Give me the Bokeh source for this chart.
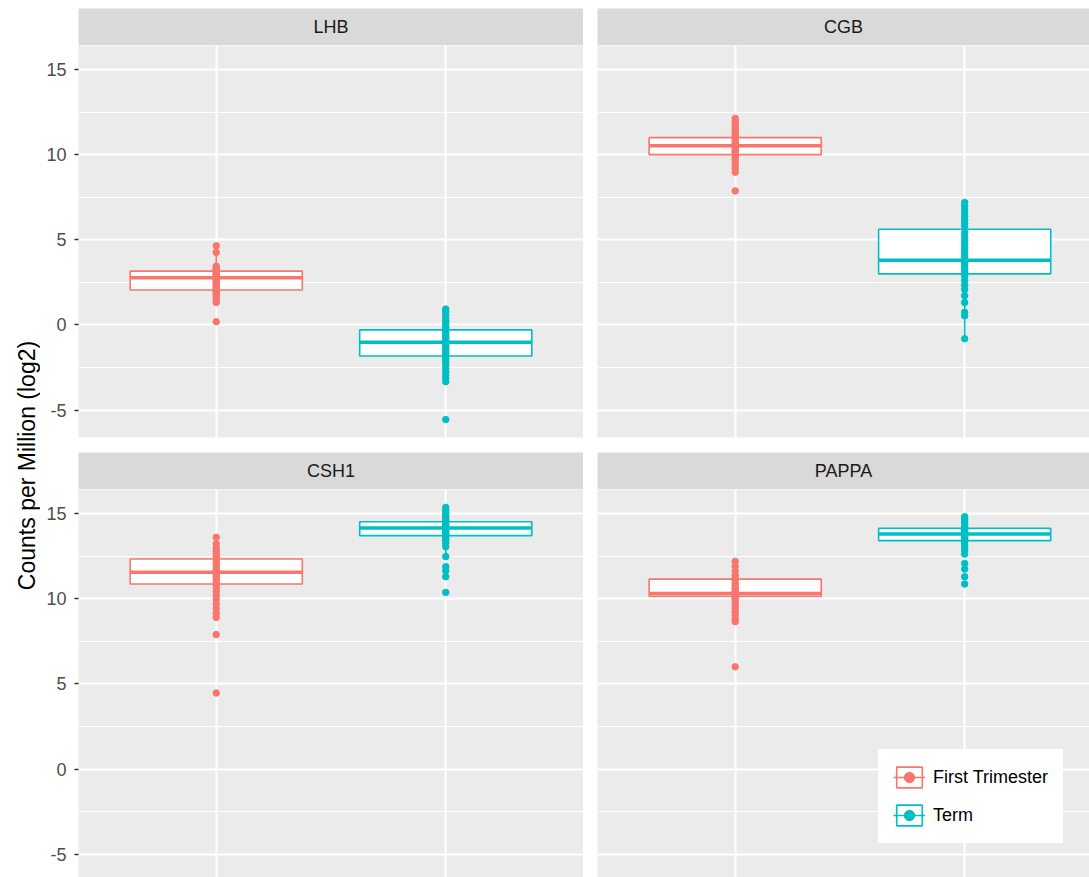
from bokeh.plotting import figure
from bokeh.layouts import row, column
from bokeh.models import (LinearAxis, Grid, FixedTicker, Legend, LegendItem,
                          Label)
from bokeh.core.properties import value
from bokeh.embed import file_html
from bokeh.resources import INLINE

FONT = "Liberation Sans"

genes = ["LHB", "CGB", "CSH1", "PAPPA"]
groups = ["First Trimester", "Term"]
group_colors = ["#F8766D", "#00BFC4"]

# box statistics per gene (same order as genes)
q1_first = [2.05, 10.00, 10.86, 10.14]
med_first = [2.77, 10.52, 11.55, 10.31]
q3_first = [3.16, 11.00, 12.33, 11.15]
q1_term = [-1.82, 3.00, 13.70, 13.41]
med_term = [-1.01, 3.80, 14.15, 13.80]
q3_term = [-0.29, 5.62, 14.52, 14.13]

# per-sample log2 CPM values
lhb_first = [4.65, 4.26, 3.45, 3.36, 3.27, 3.19, 3.11, 3.03, 2.96, 2.89, 2.83, 2.77,
             2.71, 2.65, 2.58, 2.51, 2.44, 2.37, 2.29, 2.21, 2.13, 2.05, 1.96, 1.87,
             1.77, 1.66, 1.55, 1.44, 1.32, 0.19]
lhb_term = [0.93, 0.76, 0.58, 0.40, 0.22, 0.05, -0.12, -0.27, -0.42, -0.56, -0.69,
            -0.81, -0.92, -1.01, -1.10, -1.20, -1.31, -1.43, -1.56, -1.70, -1.85,
            -2.01, -2.18, -2.36, -2.55, -2.75, -2.95, -3.14, -3.33, -5.56]
cgb_first = [12.13, 11.96, 11.80, 11.64, 11.48, 11.33, 11.19, 11.06, 10.94, 10.83,
             10.73, 10.63, 10.55, 10.47, 10.39, 10.30, 10.20, 10.10, 9.99, 9.86,
             9.71, 9.55, 9.38, 9.18, 8.97, 7.87]
cgb_term = [7.19, 6.98, 6.78, 6.56, 6.36, 6.17, 5.98, 5.79, 5.42, 5.18, 4.96, 4.75,
            4.55, 4.36, 4.17, 3.98, 3.85, 3.73, 3.61, 3.46, 3.30, 3.12, 2.90, 2.62,
            2.34, 2.08, 1.72, 1.32, 0.74, 0.54, -0.81]
csh1_first = [13.60, 13.22, 12.97, 12.80, 12.65, 12.50, 12.35, 12.20, 12.05, 11.91,
              11.77, 11.64, 11.52, 11.40, 11.27, 11.13, 10.98, 10.82, 10.63, 10.42,
              10.20, 9.96, 9.70, 9.42, 9.15, 8.90, 7.89, 4.46]
csh1_term = [15.36, 15.20, 15.05, 14.91, 14.79, 14.67, 14.57, 14.47, 14.37, 14.28,
             14.20, 14.12, 14.04, 13.96, 13.87, 13.77, 13.66, 13.54, 13.41, 13.26,
             13.05, 12.47, 11.88, 11.64, 11.29, 10.37]
pappa_first = [12.19, 11.90, 11.62, 11.40, 11.21, 11.05, 10.90, 10.76, 10.63, 10.52,
               10.43, 10.37, 10.32, 10.28, 10.23, 10.18, 10.14, 10.07, 9.95, 9.80,
               9.61, 9.41, 9.21, 9.01, 8.81, 8.65, 6.00]
pappa_term = [14.81, 14.66, 14.52, 14.39, 14.27, 14.17, 14.07, 13.99, 13.91, 13.85,
              13.79, 13.73, 13.66, 13.59, 13.51, 13.43, 13.31, 13.16, 13.01, 12.85,
              12.62, 12.07, 11.74, 11.29, 10.86]

y_ticks = [-5, 0, 5, 10, 15]
y_tick_labels = ["-5", "0", "5", "10", "15"]
y_minor = [-2.5, 2.5, 7.5, 12.5]
y_label = "Counts per Million (log2)"

samples = {
    "LHB": (lhb_first, lhb_term),
    "CGB": (cgb_first, cgb_term),
    "CSH1": (csh1_first, csh1_term),
    "PAPPA": (pappa_first, pappa_term),
}
stats_first = list(zip(q1_first, med_first, q3_first))
stats_term = list(zip(q1_term, med_term, q3_term))

BOX_W = 0.75


def whisker_ends(vals, q1, q3):
    iqr = q3 - q1
    lo, hi = q1 - 1.5 * iqr, q3 + 1.5 * iqr
    inside = [v for v in vals if lo <= v <= hi]
    return min(inside), max(inside)


def strip(label, width, height, left, top):
    s = figure(width=width, height=height, x_range=(0, 1), y_range=(0, 1),
               x_axis_type=None, y_axis_type=None, toolbar_location=None,
               output_backend="svg", min_border=0, min_border_left=left,
               min_border_top=top, background_fill_color="#D9D9D9",
               border_fill_color="white", outline_line_color=None)
    s.text(x=[0.5], y=[0.5], text=[label], text_align="center",
           text_baseline="middle", text_font=value(FONT),
           text_font_size="18px", text_color="#1A1A1A")
    return s


def panel(gene, width, height, left, bottom, x_end, y_range, with_axis):
    gi = genes.index(gene)
    p = figure(width=width, height=height, x_range=(0.4, x_end), y_range=y_range,
               x_axis_type=None, y_axis_type=None, toolbar_location=None,
               output_backend="svg", min_border=0, min_border_left=left,
               min_border_bottom=bottom, background_fill_color="#EBEBEB",
               border_fill_color="white", outline_line_color=None)
    p.add_layout(Grid(dimension=1,
                      ticker=FixedTicker(ticks=y_ticks, minor_ticks=y_minor),
                      grid_line_color="white", grid_line_width=2,
                      minor_grid_line_color="white", minor_grid_line_width=1))
    p.add_layout(Grid(dimension=0, ticker=FixedTicker(ticks=[1, 2]),
                      grid_line_color="white", grid_line_width=2))
    if with_axis:
        ax = LinearAxis(ticker=FixedTicker(ticks=y_ticks),
                        major_label_overrides=dict(zip(y_ticks, y_tick_labels)),
                        axis_line_color=None, minor_tick_line_color=None,
                        major_tick_line_color="#333333", major_tick_line_width=1.5,
                        major_tick_in=0, major_tick_out=4,
                        major_label_standoff=8,
                        major_label_text_font=FONT,
                        major_label_text_font_size="18px",
                        major_label_text_color="#4D4D4D")
        p.add_layout(ax, "left")

    items = []
    for k, (grp, col) in enumerate(zip(groups, group_colors)):
        x = k + 1
        vals = samples[gene][k]
        q1, med, q3 = (stats_first if k == 0 else stats_term)[gi]
        lo, hi = whisker_ends(vals, q1, q3)
        wh = p.segment(x0=[x, x], y0=[q3, q1], x1=[x, x], y1=[hi, lo],
                       line_color=col, line_width=1.6)
        box = p.vbar(x=[x], width=BOX_W, bottom=[q1], top=[q3],
                     fill_color="white", line_color=col, line_width=1.6)
        p.segment(x0=[x - BOX_W / 2], y0=[med], x1=[x + BOX_W / 2], y1=[med],
                  line_color=col, line_width=3.5)
        pts = p.scatter(x=[x] * len(vals), y=vals, size=6.5,
                        fill_color=col, line_color=col)
        items.append(LegendItem(label=grp, renderers=[box, wh, pts]))
    return p, items


TOP_RANGE = (-6.61, 16.41)
BOTTOM_RANGE = (-6.37, 16.41)
LEFT_W, RIGHT_W = 543, 506
LEFT_PAD, GAP = 38, 14
X_END_LEFT, X_END_RIGHT = 2.6, 2.544

# axis title column
ylab = figure(width=40, height=877, x_range=(0, 1), y_range=(0, 1),
              x_axis_type=None, y_axis_type=None, toolbar_location=None,
              output_backend="svg", min_border=0, outline_line_color=None,
              background_fill_color="white", border_fill_color="white")
ylab.add_layout(Label(x=26, y=412, x_units="screen", y_units="screen",
                      text=y_label, angle=90, angle_units="deg",
                      text_align="center", text_baseline="middle",
                      text_font=FONT, text_font_size="23px",
                      text_color="black"))

s_lhb = strip("LHB", LEFT_W, 45, LEFT_PAD, 8)
p_lhb, _ = panel("LHB", LEFT_W, 407, LEFT_PAD, 15, X_END_LEFT, TOP_RANGE, True)
s_csh = strip("CSH1", LEFT_W, 37, LEFT_PAD, 0)
p_csh, _ = panel("CSH1", LEFT_W, 388, LEFT_PAD, 0, X_END_LEFT, BOTTOM_RANGE, True)

s_cgb = strip("CGB", RIGHT_W, 45, GAP, 8)
p_cgb, _ = panel("CGB", RIGHT_W, 407, GAP, 15, X_END_RIGHT, TOP_RANGE, False)
s_pap = strip("PAPPA", RIGHT_W, 37, GAP, 0)
p_pap, leg_items = panel("PAPPA", RIGHT_W, 388, GAP, 0, X_END_RIGHT, BOTTOM_RANGE, False)

legend = Legend(items=leg_items, location=(281, 34),
                label_text_font=FONT, label_text_font_size="18px",
                label_text_color="black", background_fill_color="white",
                background_fill_alpha=1.0, border_line_color="white",
                border_line_width=1,
                padding=14, spacing=12, glyph_width=32, glyph_height=26,
                label_height=26, label_standoff=8, margin=0)
p_pap.add_layout(legend)

layout = row(ylab,
             column(s_lhb, p_lhb, s_csh, p_csh, spacing=0),
             column(s_cgb, p_cgb, s_pap, p_pap, spacing=0),
             spacing=0)

with open("out.html", "w") as f:
    f.write(file_html(layout, INLINE))
